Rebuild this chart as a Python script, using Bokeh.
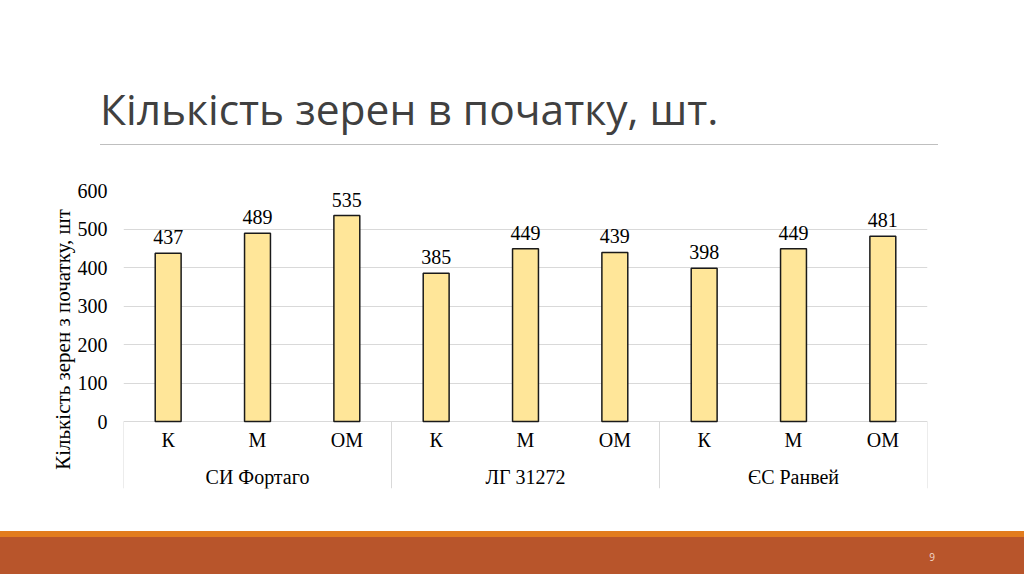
from bokeh.plotting import figure
from bokeh.layouts import column
from bokeh.models import FactorRange, FixedTicker, ColumnDataSource, Div
from bokeh.embed import file_html
from bokeh.resources import INLINE
from bokeh.core.properties import value

# ---- data ----
varieties = ["СИ Фортаго", "ЛГ 31272", "ЄС Ранвей"]
treatments = ["К", "М", "ОМ"]
grain_counts = [437, 489, 535, 385, 449, 439, 398, 449, 481]
y_ticks = [0, 100, 200, 300, 400, 500, 600]
slide_title = "Кількість зерен в початку, шт."
y_title = "Кількість зерен з початку, шт"
page_number = "9"

W = 1024
SERIF = "Liberation Serif"
GRID = "#d9d9d9"

# ---- slide title area (HTML) ----
title_html = (
    '<div style="position:relative;width:1024px;height:150px;background:#ffffff;">'
    '<div style="position:absolute;left:100px;top:88px;font-family:\'Open Sans\';'
    'font-size:42.5px;line-height:42.5px;color:#404040;white-space:nowrap;">'
    f'{slide_title}</div>'
    '<div style="position:absolute;left:100px;top:144px;width:838px;height:1px;'
    'background:#bfbfbf;"></div></div>'
)
top = Div(text=title_html, width=W, height=150, margin=0)

# ---- chart ----
factors = [(v, t) for v in varieties for t in treatments]
src = ColumnDataSource(dict(x=factors, y=grain_counts, lab=[str(v) for v in grain_counts]))

CH = 381
p = figure(width=W, height=CH, output_backend="svg", toolbar_location=None,
           x_range=FactorRange(*factors, factor_padding=0, group_padding=0, range_padding=0),
           y_range=(-174, 600),
           min_border_left=123, min_border_right=97, min_border_top=40, min_border_bottom=43)
p.outline_line_color = None
p.background_fill_color = "white"
p.border_fill_color = "white"

p.vbar(x="x", top="y", width=0.29, bottom=0, source=src,
       fill_color="#FFE699", line_color="#1a1a1a", line_width=1.5)
p.text(x="x", y="y", text="lab", source=src, y_offset=-9,
       text_align="center", text_baseline="bottom",
       text_font=value(SERIF), text_font_size="20px", text_color="#000000")

# group separators in the category axis area
n_sub = len(treatments)
sep_x = [i * n_sub for i in range(len(varieties) + 1)]
p.segment(x0=sep_x, y0=[0] * len(sep_x), x1=sep_x, y1=[-174] * len(sep_x),
          line_color=GRID, line_width=1)

# axes
p.yaxis.ticker = FixedTicker(ticks=y_ticks)
p.yaxis.axis_line_color = None
p.yaxis.major_tick_line_color = None
p.yaxis.minor_tick_line_color = None
p.yaxis.major_label_text_font = SERIF
p.yaxis.major_label_text_font_size = "20px"
p.yaxis.major_label_text_color = "#000000"
p.yaxis.major_label_standoff = 10
p.yaxis.axis_label = y_title
p.yaxis.axis_label_text_font = SERIF
p.yaxis.axis_label_text_font_size = "21px"
p.yaxis.axis_label_text_font_style = "normal"
p.yaxis.axis_label_text_color = "#000000"
p.yaxis.axis_label_standoff = 0

# category axis: its line is the 0 grid line; labels placed in the lower frame band
p.xaxis.fixed_location = 26
p.xaxis.axis_line_color = None
p.xaxis.major_tick_line_color = None
p.xaxis.minor_tick_line_color = None
p.xaxis.major_label_text_font = SERIF
p.xaxis.major_label_text_font_size = "20px"
p.xaxis.major_label_text_color = "#000000"
p.xaxis.major_label_standoff = 12
p.xaxis.group_text_font = SERIF
p.xaxis.group_text_font_size = "20px"
p.xaxis.group_text_font_style = "normal"
p.xaxis.group_text_color = "#000000"
p.xaxis.separator_line_color = None

p.xgrid.grid_line_color = None
p.ygrid.grid_line_color = GRID
p.ygrid.grid_line_width = 1

# ---- bottom band (HTML) ----
band_html = (
    '<div style="position:relative;width:1024px;height:43px;">'
    '<div style="position:absolute;left:0;top:0;width:1024px;height:6px;background:#E27C1E;"></div>'
    '<div style="position:absolute;left:0;top:6px;width:1024px;height:37px;background:#B8552B;"></div>'
    '<div style="position:absolute;left:922px;top:19px;width:20px;text-align:center;'
    'font-family:\'Open Sans\';font-size:10px;line-height:14px;color:#f2d9cc;">'
    f'{page_number}</div></div>'
)
bot = Div(text=band_html, width=W, height=43, margin=0)

layout = column(top, p, bot, spacing=0)
open("out.html", "w").write(file_html(layout, INLINE))
